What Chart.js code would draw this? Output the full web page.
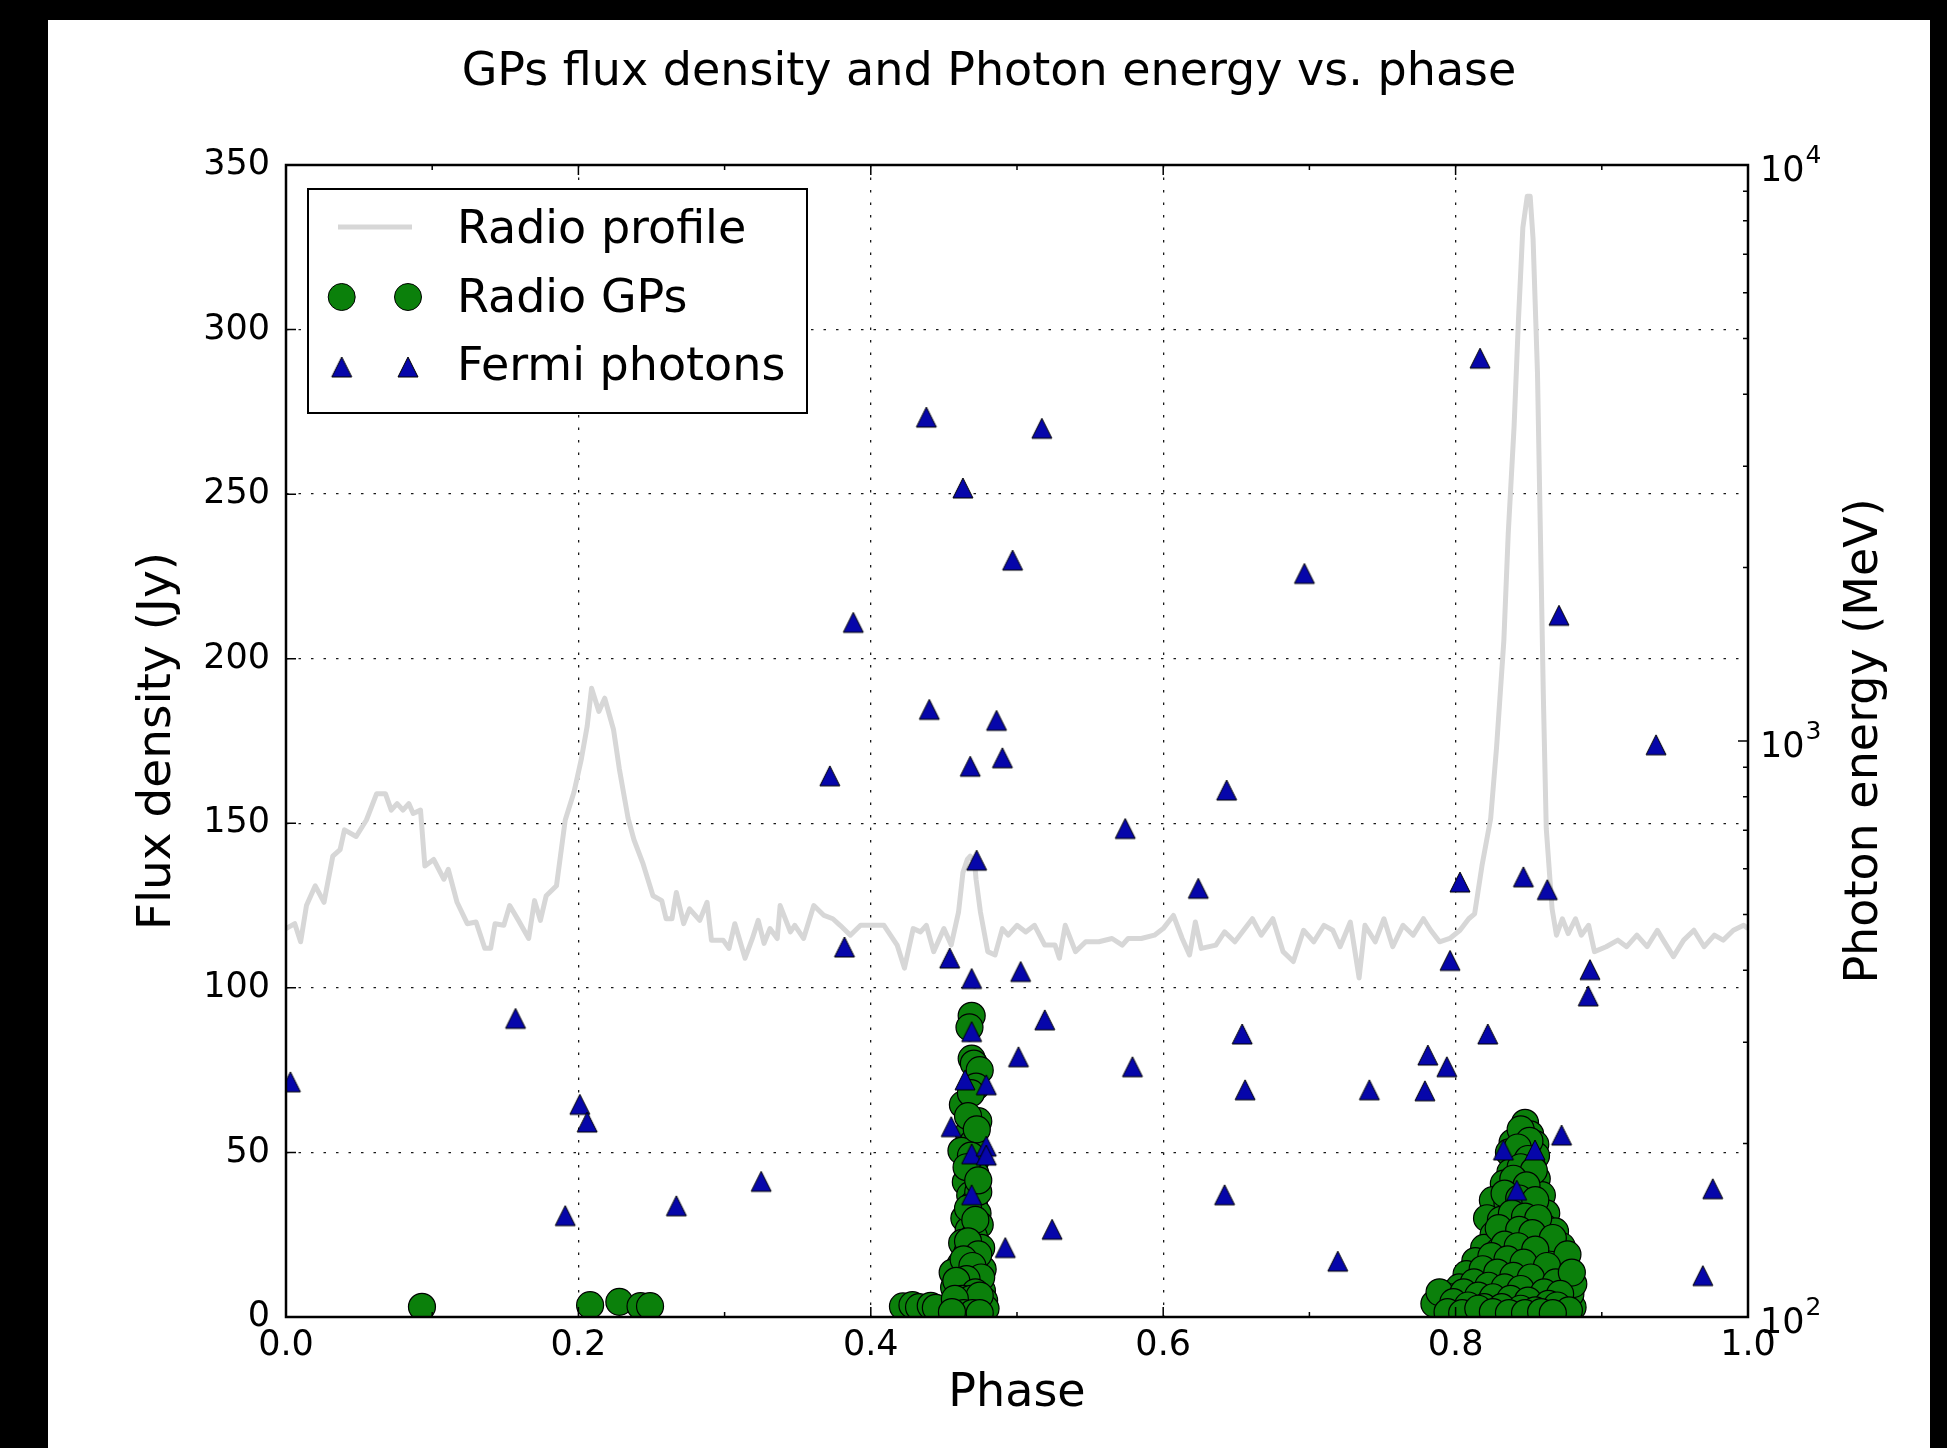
<!DOCTYPE html>
<html>
<head>
<meta charset="utf-8">
<script src="https://cdn.jsdelivr.net/npm/chart.js@4.4.1/dist/chart.umd.min.js"></script>
<style>
html,body{margin:0;padding:0;background:#000;overflow:hidden;}
#c{display:block;}
</style>
</head>
<body>
<canvas id="c" width="1947" height="1448"></canvas>
<script>
// ---------------- data ----------------
const chartTitle = 'GPs flux density and Photon energy vs. phase';
const xTitle = 'Phase';
const yTitle = 'Flux density (Jy)';
const y2Title = 'Photon energy (MeV)';
const legendLabels = ['Radio profile', 'Radio GPs', 'Fermi photons'];

const xMajorTicks = [0, 0.2, 0.4, 0.6, 0.8, 1.0];
const xMinorTicks = [0.1, 0.3, 0.5, 0.7, 0.9];
const fluxTicks = [0, 50, 100, 150, 200, 250, 300, 350];
const energyMajorTicks = [100, 1000, 10000];
const energyMajorExponents = ['2', '3', '4'];
const energyMinorTicks = [200, 300, 400, 500, 600, 700, 800, 900, 2000, 3000, 4000, 5000, 6000, 7000, 8000, 9000];

const profilePhase = [
  0.000,0.006,0.010,0.014,0.020,0.026,0.032,0.037,0.040,0.048,
  0.055,0.062,0.068,0.072,0.076,0.080,0.084,0.087,0.092,0.095,
  0.101,0.108,0.111,0.117,0.124,0.130,0.136,0.140,0.143,0.149,
  0.153,0.159,0.166,0.170,0.174,0.178,0.185,0.191,0.197,0.202,
  0.206,0.209,0.214,0.218,0.224,0.228,0.234,0.238,0.244,0.251,
  0.257,0.260,0.264,0.267,0.272,0.276,0.283,0.288,0.291,0.299,
  0.303,0.307,0.314,0.319,0.323,0.327,0.331,0.336,0.338,0.345,
  0.348,0.354,0.361,0.368,0.374,0.379,0.386,0.393,0.400,0.409,
  0.418,0.423,0.429,0.434,0.438,0.443,0.450,0.455,0.460,0.463,
  0.466,0.468,0.471,0.472,0.475,0.480,0.485,0.490,0.494,0.500,
  0.506,0.512,0.519,0.526,0.529,0.533,0.540,0.547,0.556,0.565,
  0.572,0.576,0.585,0.594,0.600,0.607,0.613,0.618,0.622,0.626,
  0.636,0.642,0.649,0.661,0.667,0.675,0.682,0.689,0.696,0.703,
  0.710,0.716,0.721,0.728,0.734,0.738,0.745,0.751,0.757,0.764,
  0.771,0.778,0.783,0.789,0.796,0.803,0.809,0.813,0.818,0.824,
  0.828,0.833,0.836,0.840,0.843,0.846,0.849,0.851,0.853,0.856,
  0.858,0.860,0.862,0.866,0.869,0.873,0.877,0.882,0.886,0.891,
  0.895,0.903,0.911,0.917,0.924,0.931,0.938,0.942,0.949,0.956,
  0.963,0.970,0.977,0.983,0.990,0.997,1.000
];
const profileFlux = [
  118,119.5,114,125,131,126,140,142,148,146,
  151,159,159,154,156,154,156,153,154,137,
  139,133,136,126,119.5,120,112,112,119.5,119,
  125,120.5,115,126.5,120.5,128,131,151,159.5,169.5,
  179.5,191,184,188,178.5,166.5,151.5,145,138,128,
  126.5,121,121,129,119.5,124,120.5,126,114.5,114.5,
  112,119.5,109,115,120.5,113.5,118,115,125,117,
  119,115,125,122,121,119,116,119,119,119,
  113,106,118,117,119,111,118,113,123,135,
  139,140,138,133,123,111,110,118,116,119,
  117,119,113,113,109,119,111,114,114,115,
  113,115,115,116,118,122,115,110,120,112,
  113,117,114,121,116,121,111,108,117.5,114,
  119,117.5,112.5,120,103,119,114,121,112.5,119,
  116,121,117.5,114,115,117.5,121,122.5,137,151.5,
  173,205.5,238,270.5,303,331,340.5,340.5,327.5,287,
  238,189,148.5,124,116,121,116.5,121,116,119,
  111,112.5,114.5,112.5,116,112.5,117.5,114.5,109.5,114.5,
  117.5,112.5,116,114.5,117.5,119,118
];

const gpPhase = [
  0.093,0.208,0.228,0.2425,0.249,0.422,0.4285,0.433,0.441,0.4445,
  0.469,0.469,0.4705,0.4745,0.472,0.463,0.4735,0.467,0.470,0.462,
  0.4715,0.4715,0.465,0.468,0.4705,0.473,0.464,0.4745,0.467,0.4705,
  0.4625,0.4755,0.466,0.4715,0.4615,0.4765,0.456,0.4685,0.4735,0.4635,
  0.457,0.4705,0.476,0.4605,0.466,0.4725,0.4775,0.464,0.469,0.4745,
  0.4615,0.467,0.4715,0.4765,0.4785,0.459,0.4595,0.4655,0.4695,0.4735,
  0.4675,0.4685,0.4665,0.4725,0.4685,0.4655,0.4735,0.4665,0.4715,0.4665,
  0.4735,0.4635,0.4695,0.4755,0.4655,0.4585,0.4715,0.4625,0.4685,0.4745,
  0.4575,0.4635,0.4695,0.4745,0.4555,
  0.8475,0.845,0.851,0.839,0.8545,0.8365,0.8475,0.855,0.842,0.852,
  0.8375,0.8465,0.8555,0.833,0.841,0.8515,0.859,0.8255,0.8355,0.846,
  0.856,0.862,0.8215,0.831,0.8405,0.8505,0.860,0.868,0.826,0.8355,
  0.8455,0.8545,0.8635,0.8725,0.8195,0.8295,0.8395,0.8495,0.8585,0.867,
  0.8755,0.8135,0.8235,0.8335,0.8435,0.853,0.862,0.871,0.8785,0.8075,
  0.8175,0.8275,0.8375,0.8475,0.8565,0.8655,0.8745,0.8025,0.812,0.822,
  0.832,0.842,0.852,0.861,0.8695,0.878,0.7965,0.8065,0.8165,0.8265,
  0.8365,0.8465,0.8565,0.866,0.8745,0.880,0.7915,0.800,0.8105,0.821,
  0.831,0.8415,0.8515,0.861,0.8705,0.8785,0.8805,0.7855,0.789,
  0.8445,0.8505,0.8425,0.8495,0.8445,0.8535,0.8395,0.8485,0.8335,0.8435,
  0.8545,0.8385,0.8475,0.8565,0.8295,0.8435,0.8525,0.8665,0.8765,0.8335,
  0.8425,0.8545,0.8245,0.8355,0.8465,0.8625,0.8185,0.8285,0.8395,0.8515,
  0.8685,0.8795,0.8125,0.8225,0.8335,0.8445,0.8605,0.8715,0.8055,0.8155,
  0.8255,0.8375,0.8495,0.8635,0.7985,0.8085,0.8195,0.8315,0.8445,0.8545,
  0.8695,0.8775,0.7945,0.8045,0.8155,0.8255,0.8365,0.8475,0.8585,0.8665
];
const gpFlux = [
  3.1,3.6,4.6,3.3,3.3,3.2,3.6,3.0,3.4,2.8,
  91.5,78.5,77,75,70,64.5,59.5,56,53,50.5,
  47.5,43.5,41,37,34.5,31.5,30,28,26.5,24.5,
  22.5,21,19.5,17.5,16,14.5,13.5,13,11,10.5,
  9,9,8,7,6.5,5.5,5,4.5,3.5,3,
  2.5,2,1.8,1.5,2.5,3.5,1.5,8.5,20,38,
  88,68,61,57,49,45.5,41.5,33,29.5,23,
  19,17.5,15.5,12,11.5,11,7.5,5.5,5.5,6.5,
  5.5,1.2,1.2,1.2,1.5,
  59,56,55.5,53,52.5,50,50.5,49,47,46,
  44,43,42,40.5,39,38.5,37,35.5,34.5,33.5,
  33,31.5,30,29.5,29,28,27.5,26,25,24.5,
  24,23,22.5,21.5,21,20,19.5,19,18,17,
  16,17,16,15,14.5,14,13,12.5,11,13,
  12,11,10.5,10,9.5,9,8,9,8.5,7.5,
  7,6.5,6,5.5,5,5.5,6,5,4.5,4,
  3.5,3,3,2.5,2.5,3,3,2.5,2,1.5,
  2,1.5,1.8,1.5,1.5,7,10,4,7.5,
  57,53.5,51.5,48,45.5,44.5,42,40,37.5,36,
  35.5,31.5,30.5,30,27,26.5,25.5,24,19,22,
  21.5,20.5,18.5,17.5,16.5,15.5,14.5,13.5,12.5,12,
  10.5,13.5,10.5,9.5,9,8.5,7.5,7,7.5,6.5,
  6,5.5,5,4,4.5,3.5,3,3,2.5,2,
  3.5,2,1.5,1.2,2.5,1.5,1.2,1.2,1.5,1.2
];

const photonPhase = [
  0.003,0.157,0.191,0.201,0.206,0.267,0.325,0.372,0.382,0.388,
  0.438,0.440,0.454,0.455,0.463,0.4644,0.468,0.469,0.469,0.4724,
  0.469,0.469,0.479,0.479,0.479,0.486,0.490,0.492,0.497,0.501,
  0.5025,0.517,0.519,0.524,0.574,0.579,0.624,0.642,0.6434,0.654,
  0.656,0.6966,0.7194,0.741,0.779,0.781,0.794,0.7962,0.803,0.8167,
  0.822,0.8327,0.8418,0.8464,0.8543,0.8627,0.8707,0.8725,0.8919,0.8907,
  0.9371,0.9759,0.9691
];
const photonEnergy = [
  256,330,150,234,218,156,172,870,439,1607,
  3650,1135,420,214,2750,258,904,313,387,621,
  192,163,253,198,191,1086,935,132,2061,283,
  398,3491,328,142,705,272,555,163,822,310,
  248,1954,125,248,247,285,272,416,569,4620,
  310,195,166,581,195,552,1653,207,401,361,
  985,167,118
];

// ---------------- style ----------------
const FONT = "'DejaVu Sans', sans-serif";
const GREEN = '#0b800b';
const BLUE = '#0606aa';
const PROFILE_GREY = '#d7d7d7';

Chart.defaults.font.family = FONT;
Chart.defaults.color = '#000';

function makeTriangle(size, fill) {
  const pad = 2;
  const c = document.createElement('canvas');
  c.width = size + 2 * pad; c.height = size + 2 * pad;
  const g = c.getContext('2d');
  g.beginPath();
  g.moveTo(pad + size / 2, pad);
  g.lineTo(pad, pad + size);
  g.lineTo(pad + size, pad + size);
  g.closePath();
  g.fillStyle = fill; g.fill();
  g.lineWidth = 1; g.strokeStyle = '#000'; g.stroke();
  return c;
}
const triImg = makeTriangle(20, BLUE);

const gridColor = (lo, hi) => (c) => {
  const v = c.tick ? c.tick.value : null;
  if (v === null || v <= lo || v >= hi) return 'rgba(0,0,0,0)';
  return 'rgba(0,0,0,0.9)';
};

const mplPlugin = {
  id: 'mplLook',
  beforeDraw(chart) {
    const ctx = chart.ctx;
    ctx.save();
    ctx.fillStyle = '#000';
    ctx.fillRect(0, 0, chart.width, chart.height);
    ctx.fillStyle = '#fff';
    ctx.fillRect(48, 20, 1882, 1428);
    ctx.restore();
  },
  afterDatasetsDraw(chart) {
    const {ctx, chartArea: a, scales} = chart;
    ctx.save();
    ctx.strokeStyle = '#000';
    ctx.lineWidth = 1.5;
    ctx.beginPath();
    const xt = (vals, L) => vals.forEach(v => {
      const px = scales.x.getPixelForValue(v);
      ctx.moveTo(px, a.bottom); ctx.lineTo(px, a.bottom - L);
      ctx.moveTo(px, a.top); ctx.lineTo(px, a.top + L);
    });
    xt(xMajorTicks, 10);
    xt(xMinorTicks, 5);
    fluxTicks.forEach(v => {
      const py = scales.y.getPixelForValue(v);
      ctx.moveTo(a.left, py); ctx.lineTo(a.left + 10, py);
    });
    const yt = (vals, L) => vals.forEach(v => {
      const py = scales.y2.getPixelForValue(v);
      ctx.moveTo(a.right, py); ctx.lineTo(a.right - L, py);
    });
    yt(energyMajorTicks, 10);
    yt(energyMinorTicks, 5);
    ctx.stroke();
    ctx.lineWidth = 2.5;
    ctx.strokeRect(a.left, a.top, a.right - a.left, a.bottom - a.top);
    ctx.restore();
  },
  afterDraw(chart) {
    const {ctx, chartArea: a, scales} = chart;
    ctx.save();
    ctx.fillStyle = '#000';
    // right axis tick labels (10 with superscript exponent, mathtext style)
    ctx.textAlign = 'left';
    ctx.textBaseline = 'alphabetic';
    energyMajorTicks.forEach((v, i) => {
      const py = scales.y2.getPixelForValue(v);
      ctx.font = '35px ' + FONT;
      ctx.fillText('10', a.right + 12, py + 16);
      const w = ctx.measureText('10').width;
      ctx.font = '25px ' + FONT;
      ctx.fillText(energyMajorExponents[i], a.right + 12 + w + 1, py - 2);
    });
    // title
    ctx.font = '46px ' + FONT;
    ctx.textAlign = 'center';
    ctx.textBaseline = 'alphabetic';
    ctx.fillText(chartTitle, 989, 85);
    // right axis title
    ctx.save();
    ctx.translate(1865, (a.top + a.bottom) / 2);
    ctx.rotate(-Math.PI / 2);
    ctx.textBaseline = 'middle';
    ctx.fillText(y2Title, 0, 0);
    ctx.restore();
    // legend
    const bx = 308, by = 189, bw = 499, bh = 224;
    ctx.fillStyle = '#fff';
    ctx.fillRect(bx, by, bw, bh);
    ctx.lineWidth = 2;
    ctx.strokeStyle = '#000';
    ctx.strokeRect(bx, by, bw, bh);
    const mx1 = 341.7, mx2 = 408;
    ctx.strokeStyle = PROFILE_GREY;
    ctx.lineWidth = 5;
    ctx.beginPath(); ctx.moveTo(338, 227); ctx.lineTo(412, 227); ctx.stroke();
    [mx1, mx2].forEach(x => {
      ctx.beginPath(); ctx.arc(x, 297, 13.5, 0, Math.PI * 2);
      ctx.fillStyle = GREEN; ctx.fill();
      ctx.lineWidth = 1; ctx.strokeStyle = '#000'; ctx.stroke();
    });
    [mx1, mx2].forEach(x => {
      ctx.drawImage(triImg, x - triImg.width / 2, 367 - triImg.height / 2);
    });
    ctx.fillStyle = '#000';
    ctx.font = '46px ' + FONT;
    ctx.textAlign = 'left';
    ctx.textBaseline = 'alphabetic';
    ctx.fillText(legendLabels[0], 457, 243);
    ctx.fillText(legendLabels[1], 457, 312);
    ctx.fillText(legendLabels[2], 457, 380);
    ctx.restore();
  }
};

new Chart(document.getElementById('c'), {
  type: 'scatter',
  data: {
    datasets: [
      {
        label: legendLabels[2],
        type: 'scatter',
        data: photonPhase.map((x, i) => ({x: x, y: photonEnergy[i]})),
        yAxisID: 'y2',
        pointStyle: triImg,
        pointRadius: 10,
        order: 1,
        clip: 0
      },
      {
        label: legendLabels[1],
        type: 'scatter',
        data: gpPhase.map((x, i) => ({x: x, y: gpFlux[i]})),
        yAxisID: 'y',
        pointStyle: 'circle',
        pointRadius: 13.5,
        backgroundColor: GREEN,
        borderColor: '#000',
        borderWidth: 1.2,
        order: 2,
        clip: 0
      },
      {
        label: legendLabels[0],
        type: 'line',
        data: profilePhase.map((x, i) => ({x: x, y: profileFlux[i]})),
        yAxisID: 'y',
        borderColor: PROFILE_GREY,
        borderWidth: 5,
        borderJoinStyle: 'round',
        pointRadius: 0,
        tension: 0,
        fill: false,
        order: 3,
        clip: 0
      }
    ]
  },
  options: {
    responsive: false,
    devicePixelRatio: 1,
    animation: false,
    events: [],
    layout: {padding: {top: 165, left: 0, right: 0, bottom: 0}},
    plugins: {
      legend: {display: false},
      title: {display: false},
      tooltip: {enabled: false}
    },
    scales: {
      x: {
        type: 'linear',
        position: 'bottom',
        min: 0, max: 1,
        afterBuildTicks: s => { s.ticks = xMajorTicks.map(v => ({value: v})); },
        ticks: {autoSkip: false, maxRotation: 0, padding: 7.5, font: {size: 35}, color: '#000',
                callback: v => Number(v).toFixed(1)},
        grid: {drawTicks: false, lineWidth: 1.3, color: gridColor(0.001, 0.999)},
        border: {display: false, dash: [2.5, 10]},
        title: {display: true, text: xTitle, font: {size: 46}, color: '#000', padding: {top: 0, bottom: 26}},
        afterFit: s => { s.height = 131; }
      },
      y: {
        type: 'linear',
        position: 'left',
        min: 0, max: 350,
        afterBuildTicks: s => { s.ticks = fluxTicks.map(v => ({value: v})); },
        ticks: {autoSkip: false, padding: 16, font: {size: 35}, color: '#000'},
        grid: {drawTicks: false, lineWidth: 1.3, color: gridColor(0.5, 349.5)},
        border: {display: false, dash: [2.5, 10]},
        title: {display: true, text: yTitle, font: {size: 47}, color: '#000', padding: {top: 130, bottom: 0}},
        afterFit: s => { s.width = 286; }
      },
      y2: {
        type: 'logarithmic',
        position: 'right',
        min: 100, max: 10000,
        afterBuildTicks: s => { s.ticks = energyMajorTicks.map(v => ({value: v, major: true})); },
        ticks: {display: false},
        grid: {display: false, drawTicks: false},
        border: {display: false},
        afterFit: s => { s.width = 199; }
      }
    }
  },
  plugins: [mplPlugin]
});
</script>
</body>
</html>
